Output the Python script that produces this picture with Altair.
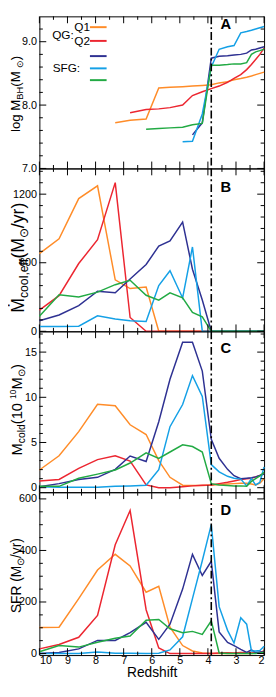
import altair as alt
import pandas as pd

FONT = "Liberation Sans"
N = None

# snapshot redshifts (shared x values)
Z = [10.0, 9.3, 8.6, 7.93, 7.3, 6.77, 6.2, 5.75, 5.35, 4.9, 4.55, 4.2,
     3.88, 3.6, 3.3, 3.07, 2.83, 2.62, 2.45, 2.3, 2.15, 2.0]
SERIES = ["Q1", "Q2", "SFG1", "SFG2", "SFG3"]
COLORS = ["#FF8C28", "#EC2630", "#2E3192", "#14A0E6", "#22AA44"]

# Panel A: log M_BH
A_Q1 = [N, N, N, N, 7.72, 7.76, 7.78, 8.27, 8.28, 8.29, 8.30, 8.31, 8.32, 8.35, 8.37, 8.40, 8.42, 8.44, 8.46, 8.48, 8.50, 8.52]
A_Q2 = [N, N, N, N, N, 7.88, 7.93, 7.94, 7.96, 8.00, 8.15, 8.21, 8.26, 8.30, 8.36, 8.42, 8.48, 8.56, 8.64, 8.72, 8.80, 8.90]
A_SFG1 = [N, N, N, N, N, N, N, N, N, N, 7.53, 7.72, 8.74, 8.77, 8.78, 8.79, 8.80, 8.82, 8.87, 8.88, 8.90, 8.92]
A_SFG2 = [N, N, N, N, N, N, N, N, N, 7.42, 7.43, 7.86, 8.60, 8.88, 8.92, 8.94, 9.14, 9.16, 9.18, 9.20, 9.22, 9.24]
A_SFG3 = [N, N, N, N, N, N, 7.62, 7.63, 7.64, 7.65, 7.69, 7.71, 8.63, 8.63, 8.64, 8.65, 8.65, 8.67, 8.80, 8.84, 8.86, 8.88]

# Panel B: effective cooling rate
B_Q1 = [680, 809, 1161, 1273, 450, 374, 388, 0, 0, 0, 0, 0, 0, 0, 0, 0, 0, 0, 0, 0, 0, 0]
B_Q2 = [185, 312, 593, 801, 1301, 121, 0, 0, 0, 0, 0, 0, 0, 0, 0, 0, 0, 0, 0, 0, 0, 0]
B_SFG1 = [93, 143, 225, 351, 337, 458, 585, 745, 790, 956, 543, 274, 0, 0, 0, 0, 0, 0, 0, 0, 0, 0]
B_SFG2 = [42, 42, 45, 135, 107, 93, 85, 400, 530, 292, 738, 0, 0, 0, 0, 0, 0, 0, 0, 0, 0, 0]
B_SFG3 = [132, 320, 300, 343, 408, 447, 315, 273, 337, 292, 166, 126, 0, 0, 0, 0, 0, 0, 0, 0, 0, 0]

# Panel C: cold gas mass
C_Q1 = [1.96, 3.53, 6.2, 9.23, 9.06, 6.96, 5.88, 3.0, 1.15, 0.28, 0.25, 0.25, 0.3, 0.35, 0.4, 0.45, 0.5, 0.5, 0.4, 0.3, 0.5, 1.0]
C_Q2 = [0.73, 0.91, 2.13, 3.11, 3.53, 2.94, 0.31, 0.0, 0.0, 0.1, 0.2, 0.28, 0.3, 0.45, 0.6, 0.75, 0.9, 1.0, 1.05, 1.2, 1.35, 1.6]
C_SFG1 = [0.1, 0.45, 0.91, 1.15, 2.03, 3.5, 2.9, 7.3, 12.0, 16.1, 16.1, 12.9, 5.35, 3.25, 2.03, 1.33, 1.0, 1.05, 1.1, 1.2, 1.35, 1.5]
C_SFG2 = [0.1, 0.05, 0.05, 0.05, 0.15, 0.2, 0.28, 2.0, 6.75, 9.2, 12.4, 10.1, 2.55, 1.75, 1.26, 1.05, 0.95, 0.2, 1.0, 0.3, 0.6, 2.3]
C_SFG3 = [0.15, 0.15, 1.05, 1.5, 1.96, 2.73, 3.85, 3.25, 3.95, 4.75, 4.55, 3.95, 0.45, 0.3, 0.25, 0.2, 0.2, 0.15, 0.7, 1.0, 1.3, 1.7]

# Panel D: SFR
D_Q1 = [101, 102, 213, 324, 385, 340, 238, 261, 102, 31, 10, 2, 0, 0, 0, 0, 0, 0, 0, 2, 4, 8]
D_Q2 = [18, 35, 63, 148, 422, 555, 170, 22, 0, 0, 0, 0, 0, 2, 3, 2, 4, 3, 2, 3, 4, 10]
D_SFG1 = [0, 4, 18, 51, 51, 81, 121, 55, 114, 250, 385, 303, 358, 84, 43, 31, 16, 4, 14, 4, 6, 6]
D_SFG2 = [0, 0, 0, 6, 1, 1, 0, 1, 14, 65, 213, 360, 500, 182, 90, 41, 139, 114, 10, 10, 12, 28]
D_SFG3 = [7, 31, 25, 44, 59, 68, 129, 132, 96, 81, 86, 74, 127, 2, 0, 0, 0, 0, 0, 0, 2, 5]

# ticks
X_MAJOR = [10, 9, 8, 7, 6, 5, 4, 3, 2]
X_MINOR = [9.5, 8.5, 7.5, 6.5, 5.5, 4.5, 3.5, 2.5]
A_MAJOR = [7.0, 8.0, 9.0]
A_MINOR = [7.2, 7.4, 7.6, 7.8, 8.2, 8.4, 8.6, 8.8, 9.2]
B_MAJOR = [0, 600, 1200]
B_MINOR = [100, 200, 300, 400, 500, 700, 800, 900, 1000, 1100, 1300, 1400]
C_MAJOR = [0, 5, 10, 15]
C_MINOR = [1, 2, 3, 4, 6, 7, 8, 9, 11, 12, 13, 14, 16, 17]
D_MAJOR = [0, 200, 400, 600]
D_MINOR = [50, 100, 150, 250, 300, 350, 450, 500, 550]
Z_TRANSITION = [3.88]

LEG_TEXT = ["QG:", "SFG:"]
LEG_LABELS = ["Q1", "Q2", "", "", ""]

W = 229

CW = {"l": .222, "o": .556, "g": .556, " ": .278, "M": .833, "B": .667, "H": .722,
      "(": .333, ")": .333, "⊙": .80, "c": .5, ",": .278, "e": .556, "f": .278,
      "/": .278, "y": .5, "r": .333, "d": .556, "S": .667, "F": .611, "R": .722,
      "1": .556, "0": .556, "Ṁ": .833}


def tw(s, size):
    return sum(CW.get(c, .556) for c in s) * size


PANELS = [
    dict(letter="A", data=[A_Q1, A_Q2, A_SFG1, A_SFG2, A_SFG3], domain=[7.0, 9.4], height=155,
         major=A_MAJOR, minor=A_MINOR, fmt=".1f",
         title=[("log M", 13.5, 0), ("BH", 9.5, 3), (" (M", 13.5, 0), ("⊙", 9.5, 3), (")", 13.5, 0)],
         tx=-19.5, tcy=79, ly=8),
    dict(letter="B", data=[B_Q1, B_Q2, B_SFG1, B_SFG2, B_SFG3], domain=[0, 1425], height=166,
         major=B_MAJOR, minor=B_MINOR, fmt="d",
         title=[("Ṁ", 18, 0), ("cool,eff", 12.5, 4), ("(M", 18, 0), ("⊙", 12.5, 4), ("/yr)", 18, 0)],
         tx=-16, tcy=91, ly=19),
    dict(letter="C", data=[C_Q1, C_Q2, C_SFG1, C_SFG2, C_SFG3], domain=[-0.5, 17.3], height=164,
         major=C_MAJOR, minor=C_MINOR, fmt="d",
         title=[("M", 15, 0), ("cold", 10.5, 3), (" (10", 15, 0), ("10", 8.5, -6), ("M", 15, 0), ("⊙", 10.5, 3), (")", 15, 0)],
         tx=-18, tcy=80, ly=17),
    dict(letter="D", data=[D_Q1, D_Q2, D_SFG1, D_SFG2, D_SFG3], domain=[-6, 626], height=166,
         major=D_MAJOR, minor=D_MINOR, fmt="d",
         title=[("SFR (M", 14, 0), ("⊙", 10, 3), ("/yr)", 14, 0)],
         tx=-19, tcy=85, ly=18),
]


def make_panel(p, last):
    H = p["height"]
    xs = alt.Scale(domain=[2, 10], reverse=True, nice=False, zero=False)
    ys = alt.Scale(domain=p["domain"], nice=False, zero=False)
    if last:
        xaxis = alt.Axis(values=X_MAJOR, format="d", labelFontSize=11, labelPadding=0,
                         title="Redshift", titleFontSize=14, titlePadding=0,
                         titleFontWeight="normal", labelFlush=True)
    else:
        xaxis = None
    yaxis = alt.Axis(values=p["major"], format=p["fmt"], labelFontSize=11, labelPadding=3, title=None)

    def X():
        return alt.X("z:Q", scale=xs, axis=xaxis)

    def Y():
        return alt.Y("value:Q", scale=ys, axis=yaxis)

    rows = []
    for s, vals in zip(SERIES, p["data"]):
        for i, (z, v) in enumerate(zip(Z, vals)):
            if v is not None:
                rows.append({"z": z, "value": v, "series": s, "i": i})
    df = pd.DataFrame(rows)

    layers = []
    for s, c in zip(SERIES, COLORS):
        layers.append(
            alt.Chart(df[df.series == s]).mark_line(strokeWidth=1.5, color=c).encode(
                x=X(), y=Y(), order=alt.Order("i:Q"))
        )
    layers.append(
        alt.Chart(pd.DataFrame({"z": Z_TRANSITION})).mark_rule(
            color="black", strokeWidth=1.6, strokeDash=[8, 3, 2, 3]).encode(x=X())
    )
    # inward ticks
    for vals, ln in ((p["major"], 7), (p["minor"], 3.5)):
        d = pd.DataFrame({"value": vals})
        layers.append(alt.Chart(d).mark_rule(color="black", strokeWidth=1).encode(
            y=Y(), x=alt.value(0), x2=alt.value(ln)))
        layers.append(alt.Chart(d).mark_rule(color="black", strokeWidth=1).encode(
            y=Y(), x=alt.value(W), x2=alt.value(W - ln)))
    for vals, ln in ((X_MAJOR, 7), (X_MINOR, 3.5)):
        d = pd.DataFrame({"z": vals})
        layers.append(alt.Chart(d).mark_rule(color="black", strokeWidth=1).encode(
            x=X(), y=alt.value(H), y2=alt.value(H - ln)))
        layers.append(alt.Chart(d).mark_rule(color="black", strokeWidth=1).encode(
            x=X(), y=alt.value(0), y2=alt.value(ln)))
    # panel letter
    layers.append(
        alt.Chart(pd.DataFrame({"t": [p["letter"]]})).mark_text(
            font=FONT, fontSize=15, fontWeight="bold", color="black",
            align="center", baseline="middle").encode(
            text="t:N", x=alt.value(190), y=alt.value(p["ly"]))
    )
    # rotated y title with subscripts
    total = sum(tw(t, sz) for t, sz, _ in p["title"])
    off = -total / 2
    for t, sz, dy in p["title"]:
        layers.append(
            alt.Chart(pd.DataFrame({"t": [t]})).mark_text(
                font=FONT, fontSize=sz, color="black", angle=270, align="left",
                baseline="alphabetic", dx=off, dy=dy).encode(
                text="t:N", x=alt.value(p["tx"]), y=alt.value(p["tcy"]))
        )
        off += tw(t, sz)
    # legend in panel A
    if p["letter"] == "A":
        layers.append(alt.Chart(pd.DataFrame({"t": [LEG_TEXT[0]]})).mark_text(
            font=FONT, fontSize=12, align="left", baseline="middle", color="black").encode(
            text="t:N", x=alt.value(13), y=alt.value(19.5)))
        layers.append(alt.Chart(pd.DataFrame({"t": [LEG_TEXT[1]]})).mark_text(
            font=FONT, fontSize=12, align="left", baseline="middle", color="black").encode(
            text="t:N", x=alt.value(13.5), y=alt.value(53)))
        ypos = [11, 25, 40.5, 53, 65]
        for lab, c, yy in zip(LEG_LABELS, COLORS, ypos):
            layers.append(alt.Chart(pd.DataFrame({"s": [lab]})).mark_rule(
                color=c, strokeWidth=2).encode(
                x=alt.value(51.5), x2=alt.value(68.5), y=alt.value(yy)))
            if lab:
                layers.append(alt.Chart(pd.DataFrame({"t": [lab]})).mark_text(
                    font=FONT, fontSize=12, align="left", baseline="middle", color="black").encode(
                    text="t:N", x=alt.value(35.5), y=alt.value(yy)))
    return alt.layer(*layers).properties(width=W, height=H)


panels = [make_panel(p, i == len(PANELS) - 1) for i, p in enumerate(PANELS)]

chart = alt.vconcat(*panels, spacing=0, bounds="flush").properties(padding=0).configure(
    font=FONT
).configure_view(
    stroke="black", strokeWidth=1
).configure_axis(
    labelFont=FONT, titleFont=FONT, labelColor="black", titleColor="black",
    ticks=False, domain=False, grid=False, tickSize=0
)

chart.save("out.html", embed_options={"renderer": "svg", "actions": False})
